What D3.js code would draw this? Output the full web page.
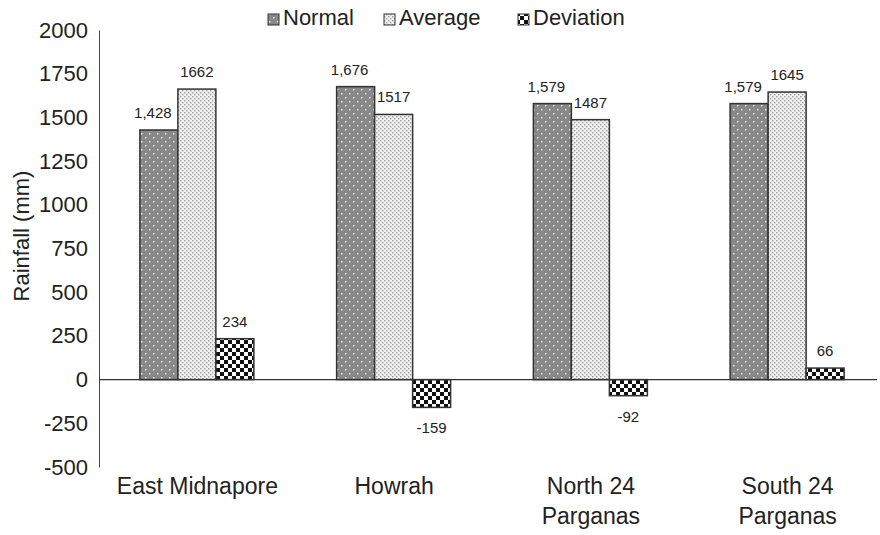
<!DOCTYPE html>
<html><head><meta charset="utf-8">
<script src="https://cdn.jsdelivr.net/npm/d3@7"></script>
<style>body{margin:0;background:#fff;} text{font-family:"Liberation Sans",Arial,sans-serif;fill:#222;}</style>
</head><body>
<svg id="c" width="880" height="535"></svg>
<script>
const categories = [["East Midnapore"], ["Howrah"], ["North 24", "Parganas"], ["South 24", "Parganas"]];
const seriesNames = ["Normal", "Average", "Deviation"];
const normalValues = [1428, 1676, 1579, 1579];
const averageValues = [1662, 1517, 1487, 1645];
const deviationValues = [234, -159, -92, 66];
const normalLabels = ["1,428", "1,676", "1,579", "1,579"];
const averageLabels = ["1662", "1517", "1487", "1645"];
const deviationLabels = ["234", "-159", "-92", "66"];
const yTicks = [-500, -250, 0, 250, 500, 750, 1000, 1250, 1500, 1750, 2000];

const svg = d3.select("#c");
const defs = svg.append("defs");
// Normal: gray with light dots
let p = defs.append("pattern").attr("id","pNormal").attr("patternUnits","userSpaceOnUse").attr("width",8).attr("height",8);
p.append("rect").attr("width",8).attr("height",8).attr("fill","#888");
p.append("rect").attr("x",1).attr("y",1).attr("width",1.5).attr("height",1.5).attr("fill","#e8e8e8");
p.append("rect").attr("x",5).attr("y",5).attr("width",1.5).attr("height",1.5).attr("fill","#e8e8e8");
// Average: white with gray dots
p = defs.append("pattern").attr("id","pAverage").attr("patternUnits","userSpaceOnUse").attr("width",4).attr("height",4);
p.append("rect").attr("width",4).attr("height",4).attr("fill","#f2f2f2");
p.append("rect").attr("x",0).attr("y",0).attr("width",1.4).attr("height",1.4).attr("fill","#9a9a9a");
p.append("rect").attr("x",2).attr("y",2).attr("width",1.4).attr("height",1.4).attr("fill","#9a9a9a");
// Deviation: checkerboard
p = defs.append("pattern").attr("id","pDeviation").attr("patternUnits","userSpaceOnUse").attr("width",8).attr("height",8);
p.append("rect").attr("width",8).attr("height",8).attr("fill","#fff");
p.append("rect").attr("x",0).attr("y",0).attr("width",4).attr("height",4).attr("fill","#111");
p.append("rect").attr("x",4).attr("y",4).attr("width",4).attr("height",4).attr("fill","#111");
const fills = ["url(#pNormal)","url(#pAverage)","url(#pDeviation)"];

const x0 = d3.scaleBand().domain(d3.range(categories.length)).range([99, 886]);
const y = d3.scaleLinear().domain([-500, 2000]).range([467, 30]);
const barW = 38;
const offsets = [-57.5, -19.5, 18.5];
const labelDx = [-6, 0, 0];
const series = [normalValues, averageValues, deviationValues];
const labels = [normalLabels, averageLabels, deviationLabels];

// y axis
const yAxis = d3.axisLeft(y).tickValues(yTicks).tickSize(0).tickPadding(11).tickFormat(d => String(d));
const ga = svg.append("g").attr("transform","translate(99,0)").call(yAxis);
ga.select(".domain").attr("stroke","#444").attr("stroke-width",1);
ga.selectAll("text").attr("font-size",22).attr("fill","#222").style("font-family","Liberation Sans, Arial, sans-serif");

// bars
series.forEach((vals, s) => {
  svg.append("g").selectAll("rect").data(vals).join("rect")
    .attr("x", (d,i) => x0(i) + x0.bandwidth()/2 + offsets[s])
    .attr("width", barW)
    .attr("y", d => y(Math.max(0,d)))
    .attr("height", d => Math.abs(y(d) - y(0)))
    .attr("fill", fills[s]).attr("stroke","#333").attr("stroke-width",1.5);
  svg.append("g").selectAll("text").data(vals).join("text")
    .attr("x", (d,i) => x0(i) + x0.bandwidth()/2 + offsets[s] + barW/2 + labelDx[s])
    .attr("y", d => d >= 0 ? y(d) - 12 : y(d) + 26)
    .attr("text-anchor","middle").attr("font-size",15)
    .text((d,i) => labels[s][i]);
});

// zero line
svg.append("line").attr("x1",99).attr("x2",877).attr("y1",y(0)).attr("y2",y(0)).attr("stroke","#333").attr("stroke-width",1.2);

// category labels
categories.forEach((lines, i) => {
  const cx = x0(i) + x0.bandwidth()/2;
  const t = svg.append("text").attr("x", cx).attr("y", 494)
    .attr("text-anchor","middle").attr("font-size",23);
  lines.forEach((l, j) => t.append("tspan").attr("x", cx).attr("dy", j===0?0:30).text(l));
});

// y title
svg.append("text").attr("transform","translate(29,236) rotate(-90)").attr("text-anchor","middle").attr("font-size",22).text("Rainfall (mm)");

// legend
const legX = [268, 384, 518];
seriesNames.forEach((n, i) => {
  svg.append("rect").attr("x", legX[i]).attr("y", 14).attr("width", 11).attr("height", 11)
    .attr("fill", fills[i]).attr("stroke","#333").attr("stroke-width",1);
  svg.append("text").attr("x", legX[i] + 15).attr("y", 25).attr("font-size",22).text(n);
});
</script>
</body></html>
